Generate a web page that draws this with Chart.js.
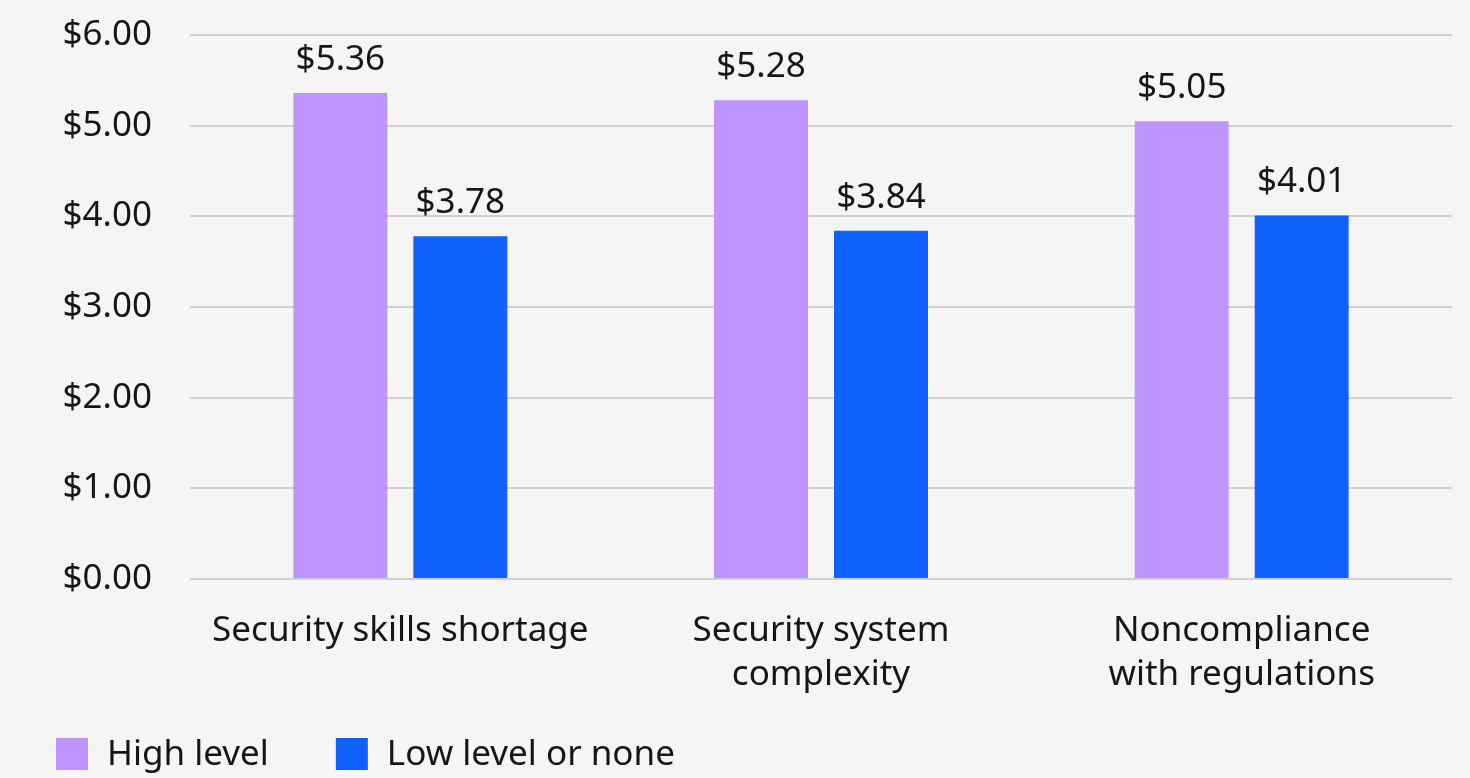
<!DOCTYPE html>
<html>
<head>
<meta charset="utf-8">
<script src="https://cdn.jsdelivr.net/npm/chart.js@4/dist/chart.umd.min.js"></script>
<style>
	html, body { margin: 0; padding: 0; background: #f5f5f5; }
	#wrap { width: 1470px; height: 778px; position: relative; }
</style>
</head>
<body>
<div id="wrap"><canvas id="chart"></canvas></div>
<script>
'use strict';

const categories = [ [ 'Security skills shortage' ], [ 'Security system', 'complexity' ], [ 'Noncompliance', 'with regulations' ] ];
const seriesNames = [ 'High level', 'Low level or none' ];
const highLevel = [ 5.36, 5.28, 5.05 ];
const lowLevel = [ 3.78, 3.84, 4.01 ];
const yTicks = [ 0, 1, 2, 3, 4, 5, 6 ];

const FONT = '"Noto Sans", "Open Sans", sans-serif';
const SIZE = 35;
const INK = '#161616';
const colors = [ '#be95ff', '#0f62fe' ];

const money = ( v ) => '$' + Number( v ).toFixed( 2 );

// value labels above each bar
const valueLabels = {
	id: 'valueLabels',
	afterDatasetsDraw( chart ) {
		const ctx = chart.ctx;
		ctx.save();
		ctx.font = SIZE + 'px ' + FONT;
		ctx.fillStyle = INK;
		ctx.textAlign = 'center';
		ctx.textBaseline = 'alphabetic';
		chart.data.datasets.forEach( ( ds, i ) => {
			chart.getDatasetMeta( i ).data.forEach( ( bar, j ) => {
				ctx.fillText( money( ds.data[ j ] ), bar.x, bar.y - 23 );
			} );
		} );
		ctx.restore();
	}
};

// legend drawn at the bottom left, from the datasets
const bottomLegend = {
	id: 'bottomLegend',
	afterDraw( chart ) {
		const ctx = chart.ctx;
		ctx.save();
		ctx.font = SIZE + 'px ' + FONT;
		ctx.textBaseline = 'middle';
		ctx.textAlign = 'left';
		let x = 56;
		const y = 738;
		chart.data.datasets.forEach( ( ds ) => {
			ctx.fillStyle = ds.backgroundColor;
			ctx.fillRect( x, y, 32, 32 );
			ctx.fillStyle = INK;
			ctx.fillText( ds.label, x + 51, y + 17 );
			x += 51 + ctx.measureText( ds.label ).width + 67;
		} );
		ctx.restore();
	}
};

new Chart( document.getElementById( 'chart' ), {
	type: 'bar',
	data: {
		labels: categories,
		datasets: [
			{ label: seriesNames[ 0 ], data: highLevel, backgroundColor: colors[ 0 ] },
			{ label: seriesNames[ 1 ], data: lowLevel, backgroundColor: colors[ 1 ] },
		],
	},
	options: {
		responsive: true,
		maintainAspectRatio: false,
		animation: false,
		layout: { padding: { top: 35, right: 18, bottom: 79, left: 0 } },
		datasets: {
			bar: { categoryPercentage: 0.5705, barPercentage: 0.783 },
		},
		plugins: {
			legend: { display: false },
			tooltip: { enabled: false },
		},
		scales: {
			x: {
				grid: { display: false },
				border: { display: false },
				ticks: {
					color: INK,
					padding: 22,
					maxRotation: 0,
					autoSkip: false,
					font: { family: FONT, size: SIZE, lineHeight: 1.257 },
				},
				afterFit( axis ) { axis.height = 120; },
			},
			y: {
				min: 0,
				max: 6,
				afterBuildTicks( axis ) { axis.ticks = yTicks.map( ( v ) => ( { value: v } ) ); },
				grid: { color: '#d0d0d0', lineWidth: 2, drawTicks: false },
				border: { display: false },
				ticks: {
					color: INK,
					padding: 38,
					callback: ( v ) => money( v ),
					font: { family: FONT, size: SIZE },
				},
				afterFit( axis ) {
					axis.width = 190;
					axis.paddingTop = 0;
					axis.paddingBottom = 0;
				},
			},
		},
	},
	plugins: [ valueLabels, bottomLegend ],
} );
</script>
</body>
</html>
